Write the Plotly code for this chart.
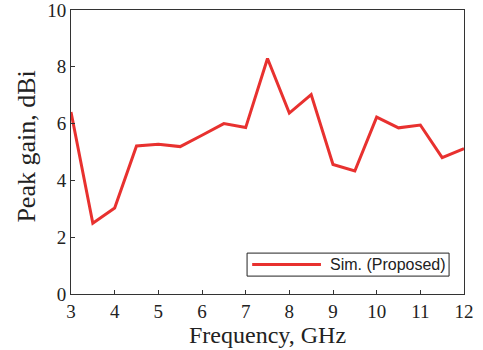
import plotly.graph_objects as go

freq = [3, 3.5, 4, 4.5, 5, 5.5, 6, 6.5, 7, 7.5, 8, 8.5, 9, 9.5, 10, 10.5, 11, 11.5, 12]
gain = [6.41, 2.49, 3.03, 5.21, 5.27, 5.19, 5.59, 6.0, 5.86, 8.29, 6.37, 7.02, 4.56, 4.33, 6.23, 5.85, 5.95, 4.80, 5.12]
x_ticks = [3, 4, 5, 6, 7, 8, 9, 10, 11, 12]
y_ticks = [0, 2, 4, 6, 8, 10]
x_title = "Frequency, GHz"
y_title = "Peak gain, dBi"
series_name = "Sim. (Proposed)"
line_color = "#E8312F"

fig = go.Figure()
fig.add_trace(go.Scatter(x=freq, y=gain, mode="lines", name=series_name,
                         line=dict(color=line_color, width=3), showlegend=False))

axis_common = dict(showgrid=False, zeroline=False, showline=True, mirror=True,
                   linecolor="#333333", linewidth=1, ticks="inside", ticklen=4,
                   tickcolor="#333333", automargin=False, ticklabeloverflow="allow",
                   tickfont=dict(family="Liberation Serif", size=19, color="#222222"))

# Axis titles as annotations for precise placement
fig.add_annotation(xref="paper", yref="paper", x=0.501, y=-0.193,
                   xanchor="center", yanchor="bottom", showarrow=False,
                   text=x_title, borderpad=0,
                   font=dict(family="Liberation Serif", size=24, color="#222222"))
fig.add_annotation(xref="paper", yref="paper", x=-0.112, y=0.519,
                   xanchor="center", yanchor="middle", showarrow=False,
                   text=y_title, textangle=-90,
                   font=dict(family="Liberation Serif", size=26, color="#222222"))

# Legend box drawn in paper coordinates (compact, MATLAB-like)
fig.add_shape(type="rect", xref="paper", yref="paper",
              x0=0.448, x1=0.962, y0=0.063, y1=0.144,
              line=dict(color="#222222", width=1), fillcolor="white", layer="above")
fig.add_shape(type="line", xref="paper", yref="paper",
              x0=0.461, x1=0.636, y0=0.1035, y1=0.1035,
              line=dict(color=line_color, width=3), layer="above")
fig.add_annotation(xref="paper", yref="paper", x=0.654, y=0.1035,
                   xanchor="left", yanchor="middle", showarrow=False,
                   text=series_name,
                   font=dict(family="Liberation Sans", size=16, color="#222222"))

fig.update_layout(
    width=483, height=350,
    margin=dict(l=71, r=19, t=10, b=56),
    paper_bgcolor="white", plot_bgcolor="white",
    xaxis=dict(range=[3, 12], tickvals=x_ticks, **axis_common),
    yaxis=dict(range=[0, 10], tickvals=y_ticks, **axis_common),
    showlegend=False,
)

fig.write_html("out.html")
